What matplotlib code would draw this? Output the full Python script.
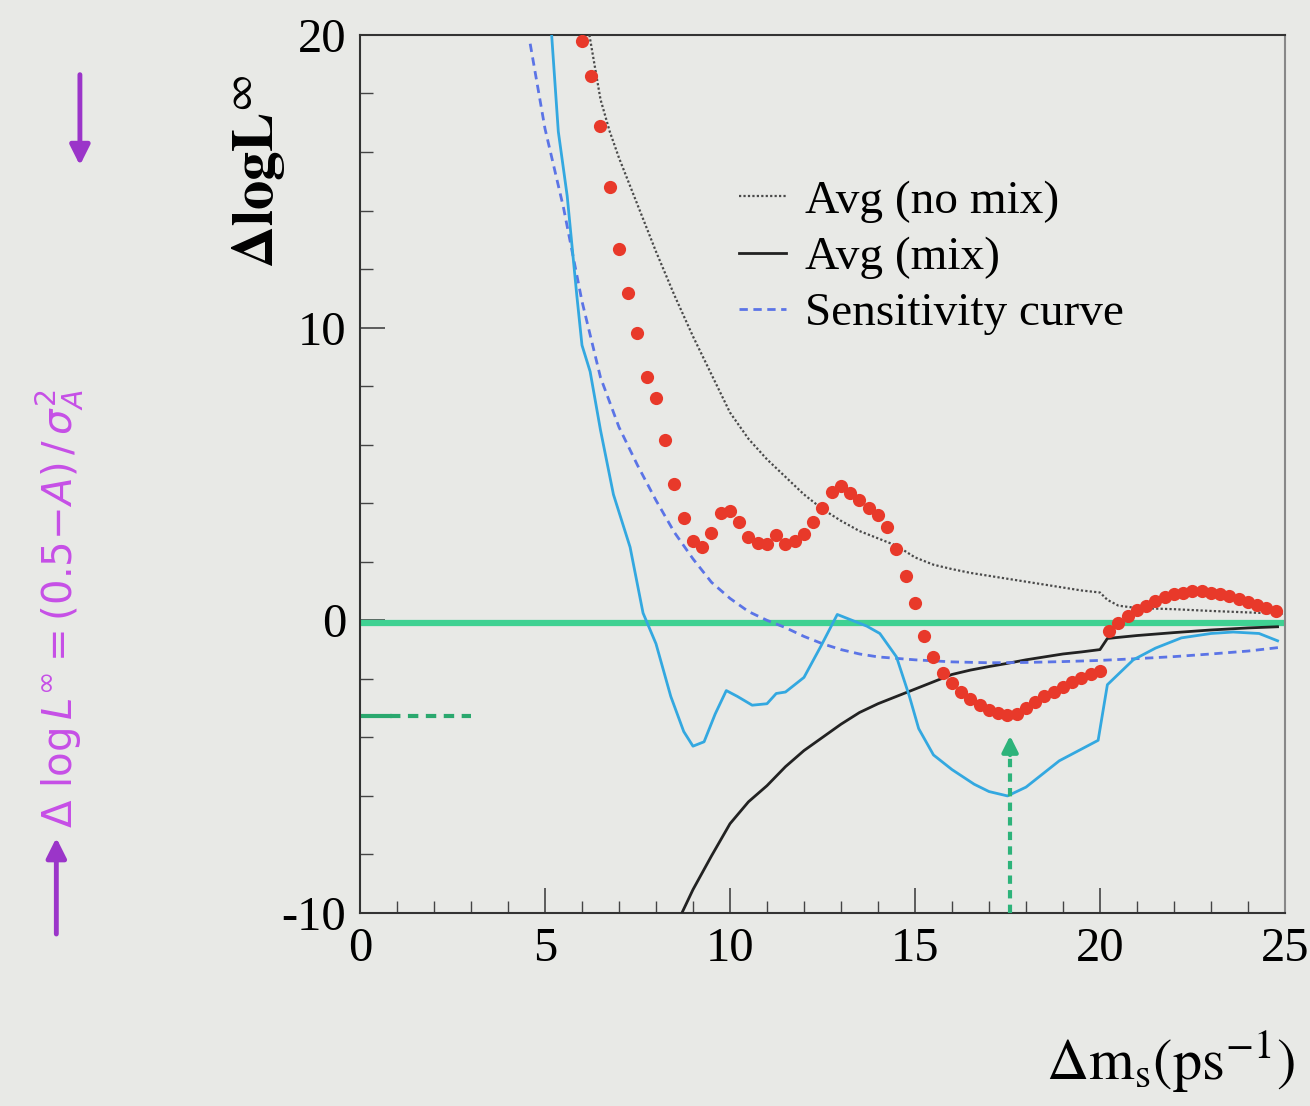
import numpy as np
import matplotlib
matplotlib.use("Agg")
import matplotlib.pyplot as plt
from matplotlib.ticker import MultipleLocator

plt.rcParams['font.family'] = ['Liberation Serif', 'DejaVu Serif']
plt.rcParams['mathtext.fontset'] = 'stix'
plt.rcParams['axes.unicode_minus'] = False

# measured points (red dots)
pts_x = [6.00, 6.25, 6.50, 6.75, 7.00, 7.25, 7.50, 7.75, 8.00, 8.25, 8.50, 8.75,
         9.00, 9.25, 9.50, 9.75, 10.00, 10.25, 10.50, 10.75, 11.00, 11.25, 11.50, 11.75,
         12.00, 12.25, 12.50, 12.75, 13.00, 13.25, 13.50, 13.75, 14.00, 14.25, 14.50, 14.75,
         15.00, 15.25, 15.50, 15.75, 16.00, 16.25, 16.50, 16.75, 17.00, 17.25, 17.50, 17.75,
         18.00, 18.25, 18.50, 18.75, 19.00, 19.25, 19.50, 19.75, 20.00, 20.25, 20.50, 20.75,
         21.00, 21.25, 21.50, 21.75, 22.00, 22.25, 22.50, 22.75, 23.00, 23.25, 23.50, 23.75,
         24.00, 24.25, 24.50, 24.75]
pts_y = [19.8, 18.6, 16.9, 14.8, 12.7, 11.2, 9.8, 8.3, 7.6, 6.15, 4.65, 3.5,
         2.7, 2.5, 3.0, 3.65, 3.75, 3.35, 2.85, 2.65, 2.6, 2.9, 2.6, 2.7,
         2.95, 3.35, 3.85, 4.4, 4.6, 4.35, 4.1, 3.85, 3.6, 3.2, 2.45, 1.5,
         0.6, -0.55, -1.25, -1.8, -2.15, -2.45, -2.7, -2.9, -3.05, -3.15, -3.25, -3.2,
         -3.0, -2.8, -2.6, -2.45, -2.28, -2.12, -1.98, -1.85, -1.72, -0.35, -0.1, 0.15,
         0.35, 0.5, 0.65, 0.8, 0.9, 0.95, 1.0, 1.0, 0.95, 0.9, 0.82, 0.72,
         0.62, 0.52, 0.42, 0.32]

# Avg (no mix)
nomix_x = [6.2, 6.5, 6.75, 7.0, 7.5, 8.0, 8.5, 9.0, 9.5, 10.0, 10.5, 11.0, 11.5, 12.0,
           12.5, 13.0, 13.5, 14.0, 14.5, 15.0, 15.5, 16.0, 16.5, 17.0, 17.5, 18.0, 18.5,
           19.0, 19.5, 20.0, 20.2, 20.5, 21.0, 22.0, 23.0, 24.0, 25.0]
nomix_y = [20.0, 17.8, 16.7, 15.8, 14.2, 12.6, 11.1, 9.7, 8.4, 7.1, 6.2, 5.5, 4.9, 4.3,
           3.8, 3.4, 3.05, 2.8, 2.55, 2.15, 1.9, 1.75, 1.62, 1.52, 1.42, 1.32, 1.22,
           1.12, 1.02, 0.95, 0.7, 0.5, 0.42, 0.38, 0.32, 0.27, 0.22]

# Avg (mix)
mix_x = [8.7, 9.0, 9.5, 10.0, 10.5, 11.0, 11.5, 12.0, 12.5, 13.0, 13.5, 14.0, 14.5,
         15.0, 15.5, 16.0, 16.5, 17.0, 17.5, 18.0, 18.5, 19.0, 19.5, 20.0, 20.2,
         21.0, 22.0, 23.0, 24.0, 24.8]
mix_y = [-10.0, -9.2, -8.05, -6.95, -6.2, -5.65, -5.0, -4.45, -4.0, -3.55, -3.15, -2.85, -2.6,
         -2.35, -2.1, -1.85, -1.7, -1.58, -1.47, -1.35, -1.25, -1.15, -1.08, -1.0, -0.62,
         -0.52, -0.42, -0.33, -0.26, -0.22]

# Sensitivity curve
sens_x = [4.6, 5.0, 5.5, 6.0, 6.5, 7.0, 7.5, 8.0, 8.5, 9.0, 9.5, 10.0, 10.5, 11.0, 11.5,
          12.0, 12.5, 13.0, 13.5, 14.0, 15.0, 16.0, 17.0, 18.0, 19.0, 20.0, 21.0, 22.0,
          23.0, 24.0, 24.9]
sens_y = [19.7, 16.8, 14.1, 10.9, 8.3, 6.6, 5.3, 4.1, 3.0, 2.1, 1.3, 0.75, 0.3, 0.0, -0.25,
          -0.55, -0.8, -1.0, -1.15, -1.25, -1.35, -1.42, -1.45, -1.44, -1.41, -1.37, -1.31, -1.24,
          -1.15, -1.05, -0.92]

# normalised curve (cyan)
norm_x = [5.18, 5.36, 5.6, 5.86, 6.0, 6.22, 6.5, 6.85, 7.3, 7.65, 8.0, 8.4, 8.75, 9.0, 9.3,
          9.6, 9.9, 10.2, 10.6, 11.0, 11.25, 11.5, 12.0, 12.45, 12.9, 13.3, 13.7, 14.05,
          14.5, 14.85, 15.1, 15.5, 16.0, 16.6, 17.0, 17.5, 18.0, 18.5, 18.9, 19.5, 19.95,
          20.2, 20.9, 21.5, 22.2, 23.0, 23.6, 24.3, 24.8]
norm_y = [20.0, 16.7, 14.5, 11.1, 9.4, 8.5, 6.5, 4.3, 2.5, 0.25, -0.8, -2.6, -3.8, -4.3, -4.15,
          -3.2, -2.4, -2.6, -2.9, -2.85, -2.5, -2.45, -1.95, -0.9, 0.2, 0.0, -0.2, -0.45,
          -1.25, -2.6, -3.7, -4.6, -5.1, -5.6, -5.85, -6.0, -5.7, -5.2, -4.8, -4.4, -4.1,
          -2.2, -1.35, -0.95, -0.6, -0.45, -0.4, -0.45, -0.7]

zero_level = -0.08
min_level = -3.27
min_pos = 17.57

bg = '#e8e9e6'
fig = plt.figure(figsize=(13.1, 11.06), dpi=100, facecolor=bg)
ax = fig.add_axes([0.2748, 0.1745, 0.7061, 0.7939], facecolor=bg)

ax.axhline(zero_level, color='#3fd192', lw=4.5, zorder=2)
ax.plot([0, 0.8], [min_level, min_level], color='#2aa86e', lw=3, zorder=2)
ax.plot([0.8, 3.0], [min_level, min_level], color='#2aa86e', lw=3,
        ls=(0, (2.5, 1.8)), zorder=2)

ax.plot(nomix_x, nomix_y, color='#4a4a4a', lw=1.6, ls=(0, (1, 1)), label='Avg (no mix)', zorder=3)
ax.plot(mix_x, mix_y, color='#222222', lw=2, label='Avg (mix)', zorder=3)
ax.plot(sens_x, sens_y, color='#5b74e6', lw=2, ls=(0, (3, 2)), label='Sensitivity curve', zorder=3)
ax.plot(norm_x, norm_y, color='#33a8e0', lw=2, zorder=3)
ax.plot(pts_x, pts_y, 'o', color='#e8392a', ms=9.5, mec='none', zorder=4)

# arrow to the minimum
ax.plot([min_pos, min_pos], [-10, -4.5], color='#2db37a', lw=3, ls=(0, (2, 1.5)), zorder=3)
ax.annotate('', xy=(min_pos, -3.85), xytext=(min_pos, -4.7),
            arrowprops=dict(arrowstyle='-|>', color='#2db37a', lw=3,
                            mutation_scale=24), zorder=3)

ax.set_xlim(0, 25)
ax.set_ylim(-10, 20)
ax.xaxis.set_major_locator(MultipleLocator(5))
ax.xaxis.set_minor_locator(MultipleLocator(1))
ax.yaxis.set_major_locator(MultipleLocator(10))
ax.yaxis.set_minor_locator(MultipleLocator(2))
ax.tick_params(which='both', direction='in', top=False, right=False,
               labelsize=35, pad=10, color='#444444')
ax.tick_params(which='major', length=18, width=1.2)
ax.tick_params(which='minor', length=9, width=1)
for s in ax.spines.values():
    s.set_color('#333333')
    s.set_linewidth(1.5)
ax.spines['right'].set_color('#888888')

ax.text(-0.11, 0.845, r'$\mathbf{\Delta logL}^{\infty}$', transform=ax.transAxes,
        rotation=90, ha='center', va='center', fontsize=42)
ax.text(0.876, -0.17, r'$\Delta\mathrm{m}_{\mathrm{s}}(\mathrm{ps}^{-1})$', transform=ax.transAxes,
        ha='center', va='center', fontsize=42)

ax.legend(loc='upper left', bbox_to_anchor=(0.41, 0.835), frameon=False, fontsize=34,
          handlelength=1.0, handletextpad=0.4, labelspacing=0.28, borderpad=0,
          borderaxespad=0)

# handwritten note on the left
fig.text(0.046, 0.45, r'$\Delta\ \log L^{\infty} = (0.5\!-\!A)\,/\,\sigma_A^2$', rotation=90,
         ha='center', va='center', fontsize=29, color='#c64fe6', math_fontfamily='dejavusans')
fig.add_artist(matplotlib.patches.FancyArrowPatch((0.061, 0.935), (0.061, 0.848),
               transform=fig.transFigure, arrowstyle='-|>', mutation_scale=30,
               color='#9b35c9', lw=3.5))
fig.add_artist(matplotlib.patches.FancyArrowPatch((0.043, 0.153), (0.043, 0.245),
               transform=fig.transFigure, arrowstyle='-|>', mutation_scale=30,
               color='#9b35c9', lw=3.5))

fig.savefig('out.png', dpi=100, facecolor=bg)
